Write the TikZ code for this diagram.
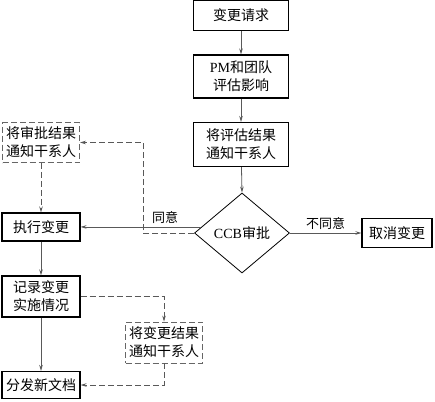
\documentclass[tikz,border=0pt]{standalone}
\usepackage{fontspec}
\setmainfont{Liberation Serif}
\newfontfamily\cjk{Noto Sans CJK SC}
\usetikzlibrary{shapes.geometric,arrows.meta,calc}

\tikzset{
	box/.style={draw=black,line width=1.1pt,align=center,inner sep=2pt,font=\cjk\fontsize{14}{18}\selectfont},
	dbox/.style={draw=black!60,dash pattern=on 6pt off 3pt,line width=0.8pt,align=center,inner sep=2pt,font=\cjk\fontsize{14}{18}\selectfont},
	line/.style={draw=black!65,line width=0.8pt,-{Stealth[length=6pt,width=3.5pt]}},
	dline/.style={line,dash pattern=on 6pt off 3pt},
	lbl/.style={font=\cjk\fontsize{13}{15}\selectfont}
}

\begin{document}
\begin{tikzpicture}[x=1pt,y=-1pt]
		\useasboundingbox (0,0) rectangle (435,401);
		
		\node[box,minimum width=95pt,minimum height=30pt] (req) at (241,15.5){变更请求};
		\node[box,minimum width=95pt,minimum height=43pt] (assess) at (241,76.5){{\rmfamily PM}和团队\\评估影响};
		\node[box,minimum width=95pt,minimum height=44pt] (notify) at (241,144.5){将评估结果\\通知干系人};
		
		\node[box,diamond,line width=0.8pt,minimum width=95pt,minimum height=80pt,inner sep=0pt] (ccb) at (242,233){{\rmfamily CCB}审批};
		\node[box,minimum width=70pt,minimum height=29pt] (cancel) at (397,233){取消变更};
		
		\node[dbox,minimum width=77pt,minimum height=40pt] (tellA) at (41,142.5){将审批结果\\通知干系人};
		\node[box,minimum width=78pt,minimum height=28pt] (exec) at (41,227){执行变更};
		\node[box,minimum width=78pt,minimum height=41pt] (record) at (41,296.5){记录变更\\实施情况};
		\node[box,minimum width=78pt,minimum height=27pt] (dist) at (41,385){分发新文档};
		\node[dbox,minimum width=77pt,minimum height=41pt] (tellB) at (164,342.5){将变更结果\\通知干系人};
		
		\draw[line] (req) -- (assess);
		\draw[line] (assess) -- (notify);
		\draw[line] (notify) -- (ccb.north);
		\draw[line] (ccb.east) -- (cancel.west) node[lbl,midway,above]{不同意};
		
		\coordinate (agree) at ($(ccb.west)!0.15!(ccb.north)$);
		\draw[line] (agree) -- (agree -| exec.east) node[lbl,pos=0.3,above]{同意};
		\coordinate (bendA) at (143,233);
		\draw[dline] (ccb.west) -- (bendA) |- (tellA.east);
		\draw[dline] (tellA) -- (exec);
		
		\draw[line] (exec) -- (record);
		\draw[line] (record) -- (dist);
		\draw[dline] (record.east) -| (tellB.north);
		\draw[dline] (tellB.south) |- (dist.east);
	\end{tikzpicture}
\end{document}
